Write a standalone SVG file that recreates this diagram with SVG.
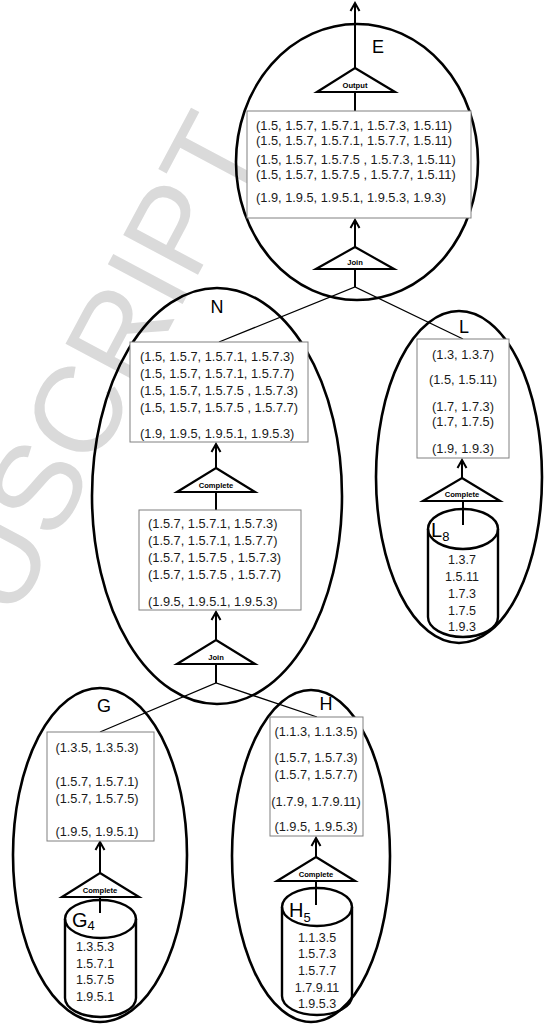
<svg xmlns="http://www.w3.org/2000/svg" width="549" height="1025" viewBox="0 0 549 1025">
  <defs>
    <marker id="arrow" viewBox="-10 -6 12 12" refX="0" refY="0" markerWidth="12" markerHeight="12" markerUnits="userSpaceOnUse" orient="auto">
      <path d="M-8,-4.5 L0,0 L-8,4.5" fill="none" stroke="#000" stroke-width="2" stroke-linejoin="miter"/>
    </marker>
  </defs>
  <style>
    .region { fill: none; stroke: #000; stroke-width: 2.6; }
    .box { fill: #fff; stroke: #808080; stroke-width: 1; }
    .op { fill: #fff; stroke: #000; stroke-width: 2.2; stroke-linejoin: miter; }
    .shaft { stroke: #000; stroke-width: 2; fill: none; }
    .link { stroke: #000; stroke-width: 1.3; fill: none; }
    .cyl { fill: none; stroke: #000; stroke-width: 2.4; }
    .t { font-family: "Liberation Sans", Arial, sans-serif; font-size: 12.8px; fill: #1a1a1a; }
    .c { text-anchor: middle; }
    .opl { font-family: "Liberation Sans", Arial, sans-serif; font-size: 7.6px; font-weight: bold; fill: #000; text-anchor: middle; }
    .lbl { font-family: "Liberation Sans", Arial, sans-serif; font-size: 18px; fill: #000; text-anchor: middle; }
    .cl { font-family: "Liberation Sans", Arial, sans-serif; font-size: 20px; fill: #000; }
    .sub { font-size: 13px; }
    .ct { font-family: "Liberation Sans", Arial, sans-serif; font-size: 12.5px; fill: #1a1a1a; text-anchor: middle; }
    .wm { font-family: "Liberation Sans", Arial, sans-serif; font-size: 123px; fill: #dadada; text-anchor: end; }
  </style>

  <rect width="549" height="1025" fill="#fff"/>

  <!-- background stamp -->
  <text class="wm" transform="translate(267,145) rotate(-62)">USCRIPT</text>

  <!-- region outlines -->
  <g id="E">
    <ellipse class="region" cx="357" cy="162" rx="121" ry="138"/>
    <text class="lbl" x="378" y="53">E</text>
  </g>
  <g id="N">
    <ellipse class="region" cx="217" cy="496" rx="125" ry="208"/>
    <text class="lbl" x="217" y="313">N</text>
  </g>
  <g id="L">
    <ellipse class="region" cx="459" cy="477" rx="83" ry="166"/>
    <text class="lbl" x="464" y="333">L</text>
  </g>
  <g id="G">
    <ellipse class="region" cx="100" cy="855" rx="87" ry="167"/>
    <text class="lbl" x="104" y="712">G</text>
  </g>
  <g id="H">
    <ellipse class="region" cx="311" cy="856" rx="79" ry="166"/>
    <text class="lbl" x="326" y="710">H</text>
  </g>

  <!-- connectors -->
  <g id="connectors">
    <line class="shaft" x1="355" y1="68" x2="355" y2="3" marker-end="url(#arrow)"/>
    <line class="shaft" x1="355" y1="92" x2="355" y2="111"/>
    <line class="shaft" x1="355" y1="247" x2="355" y2="220" marker-end="url(#arrow)"/>
    <line class="shaft" x1="355" y1="269" x2="355" y2="287"/>
    <polyline class="link" points="219,342 355,287 463,339"/>

    <line class="shaft" x1="216" y1="468" x2="216" y2="444" marker-end="url(#arrow)"/>
    <line class="shaft" x1="216" y1="492" x2="216" y2="510"/>
    <line class="shaft" x1="216" y1="640" x2="216" y2="612" marker-end="url(#arrow)"/>
    <line class="shaft" x1="216" y1="664" x2="216" y2="683"/>
    <polyline class="link" points="100,732 216,683 317,717"/>

    <line class="shaft" x1="462" y1="478" x2="462" y2="460" marker-end="url(#arrow)"/>
    <line class="shaft" x1="463" y1="501" x2="463" y2="525"/>

    <line class="shaft" x1="100" y1="873" x2="100" y2="842" marker-end="url(#arrow)"/>
    <line class="shaft" x1="100" y1="897" x2="100" y2="913"/>

    <line class="shaft" x1="316" y1="857" x2="316" y2="838" marker-end="url(#arrow)"/>
    <line class="shaft" x1="316" y1="881" x2="316" y2="905"/>
  </g>

  <!-- operators -->
  <g id="op-output">
    <polygon class="op" points="355,68 395,92 317,92"/>
    <text class="opl" x="355" y="88">Output</text>
  </g>
  <g id="op-join-E">
    <polygon class="op" points="355,247 394,269 316,269"/>
    <text class="opl" x="355" y="265">Join</text>
  </g>
  <g id="op-complete-N">
    <polygon class="op" points="216,468 255,492 177,492"/>
    <text class="opl" x="216" y="488">Complete</text>
  </g>
  <g id="op-join-N">
    <polygon class="op" points="216,640 255,664 177,664"/>
    <text class="opl" x="216" y="660">Join</text>
  </g>
  <g id="op-complete-L">
    <polygon class="op" points="462,478 500,501 423,501"/>
    <text class="opl" x="462" y="497">Complete</text>
  </g>
  <g id="op-complete-G">
    <polygon class="op" points="100,873 139,897 62,897"/>
    <text class="opl" x="100" y="893">Complete</text>
  </g>
  <g id="op-complete-H">
    <polygon class="op" points="316,857 355,881 277,881"/>
    <text class="opl" x="316" y="877">Complete</text>
  </g>

  <!-- tuple boxes -->
  <g id="box-E">
    <rect class="box" x="247" y="111" width="224" height="107"/>
    <text class="t" x="256" y="129.5">(1.5, 1.5.7, 1.5.7.1, 1.5.7.3, 1.5.11)</text>
    <text class="t" x="256" y="144.5">(1.5, 1.5.7, 1.5.7.1, 1.5.7.7, 1.5.11)</text>
    <text class="t" x="256" y="163.5">(1.5, 1.5.7, 1.5.7.5 , 1.5.7.3, 1.5.11)</text>
    <text class="t" x="256" y="178.5">(1.5, 1.5.7, 1.5.7.5 , 1.5.7.7, 1.5.11)</text>
    <text class="t" x="256" y="201.5">(1.9, 1.9.5, 1.9.5.1, 1.9.5.3, 1.9.3)</text>
  </g>
  <g id="box-N1">
    <rect class="box" x="130" y="342" width="178" height="100"/>
    <text class="t" x="140" y="360.5">(1.5, 1.5.7, 1.5.7.1, 1.5.7.3)</text>
    <text class="t" x="140" y="377.5">(1.5, 1.5.7, 1.5.7.1, 1.5.7.7)</text>
    <text class="t" x="140" y="394.5">(1.5, 1.5.7, 1.5.7.5 , 1.5.7.3)</text>
    <text class="t" x="140" y="411.5">(1.5, 1.5.7, 1.5.7.5 , 1.5.7.7)</text>
    <text class="t" x="140" y="437.5">(1.9, 1.9.5, 1.9.5.1, 1.9.5.3)</text>
  </g>
  <g id="box-N2">
    <rect class="box" x="139" y="510" width="162" height="100"/>
    <text class="t" x="148" y="527.5">(1.5.7, 1.5.7.1, 1.5.7.3)</text>
    <text class="t" x="148" y="544.5">(1.5.7, 1.5.7.1, 1.5.7.7)</text>
    <text class="t" x="148" y="561.5">(1.5.7, 1.5.7.5 , 1.5.7.3)</text>
    <text class="t" x="148" y="578.5">(1.5.7, 1.5.7.5 , 1.5.7.7)</text>
    <text class="t" x="148" y="605.5">(1.9.5, 1.9.5.1, 1.9.5.3)</text>
  </g>
  <g id="box-L">
    <rect class="box" x="417" y="339" width="92" height="119"/>
    <text class="t c" x="463" y="358.5">(1.3, 1.3.7)</text>
    <text class="t c" x="463" y="383.5">(1.5, 1.5.11)</text>
    <text class="t c" x="463" y="410.5">(1.7, 1.7.3)</text>
    <text class="t c" x="463" y="425.5">(1.7, 1.7.5)</text>
    <text class="t c" x="463" y="452.5">(1.9, 1.9.3)</text>
  </g>
  <g id="box-G">
    <rect class="box" x="47" y="732" width="107" height="109"/>
    <text class="t c" x="97" y="751.5">(1.3.5, 1.3.5.3)</text>
    <text class="t c" x="97" y="785.5">(1.5.7, 1.5.7.1)</text>
    <text class="t c" x="97" y="802.5">(1.5.7, 1.5.7.5)</text>
    <text class="t c" x="97" y="836">(1.9.5, 1.9.5.1)</text>
  </g>
  <g id="box-H">
    <rect class="box" x="270" y="717" width="93" height="119"/>
    <text class="t c" x="316" y="735.5">(1.1.3, 1.1.3.5)</text>
    <text class="t c" x="316" y="761.5">(1.5.7, 1.5.7.3)</text>
    <text class="t c" x="316" y="778.5">(1.5.7, 1.5.7.7)</text>
    <text class="t c" x="316" y="805.5">(1.7.9, 1.7.9.11)</text>
    <text class="t c" x="316" y="830.5">(1.9.5, 1.9.5.3)</text>
  </g>

  <!-- stored partitions -->
  <g id="store-L8">
    <path class="cyl" d="M428,529 L428,617 A35,20 0 0,0 498,617 L498,529"/>
    <ellipse class="cyl" cx="463" cy="529" rx="35" ry="20"/>
    <line class="shaft" x1="463" y1="501" x2="463" y2="525"/>
    <text class="cl" x="431" y="537">L<tspan class="sub" dy="4">8</tspan></text>
    <text class="ct" x="462" y="563.5">1.3.7</text>
    <text class="ct" x="462" y="581">1.5.11</text>
    <text class="ct" x="462" y="597.5">1.7.3</text>
    <text class="ct" x="462" y="614.5">1.7.5</text>
    <text class="ct" x="462" y="631">1.9.3</text>
  </g>
  <g id="store-G4">
    <path class="cyl" d="M65,919 L65,998 A35.5,19 0 0,0 136,998 L136,919"/>
    <ellipse class="cyl" cx="100.5" cy="919" rx="35.5" ry="19"/>
    <line class="shaft" x1="100" y1="897" x2="100" y2="913"/>
    <text class="cl" x="72" y="927">G<tspan class="sub" dy="3">4</tspan></text>
    <text class="ct" x="95" y="950.5">1.3.5.3</text>
    <text class="ct" x="95" y="967.5">1.5.7.1</text>
    <text class="ct" x="95" y="983.5">1.5.7.5</text>
    <text class="ct" x="95" y="1000.5">1.9.5.1</text>
  </g>
  <g id="store-H5">
    <path class="cyl" d="M282,907 L282,996 A35,19 0 0,0 352,996 L352,907"/>
    <ellipse class="cyl" cx="317" cy="907" rx="35" ry="19"/>
    <line class="shaft" x1="316" y1="881" x2="316" y2="905"/>
    <text class="cl" x="289" y="917">H<tspan class="sub" dy="5">5</tspan></text>
    <text class="ct" x="317" y="941.5">1.1.3.5</text>
    <text class="ct" x="317" y="957.5">1.5.7.3</text>
    <text class="ct" x="317" y="974.5">1.5.7.7</text>
    <text class="ct" x="317" y="991.5">1.7.9.11</text>
    <text class="ct" x="317" y="1007.5">1.9.5.3</text>
  </g>
</svg>
